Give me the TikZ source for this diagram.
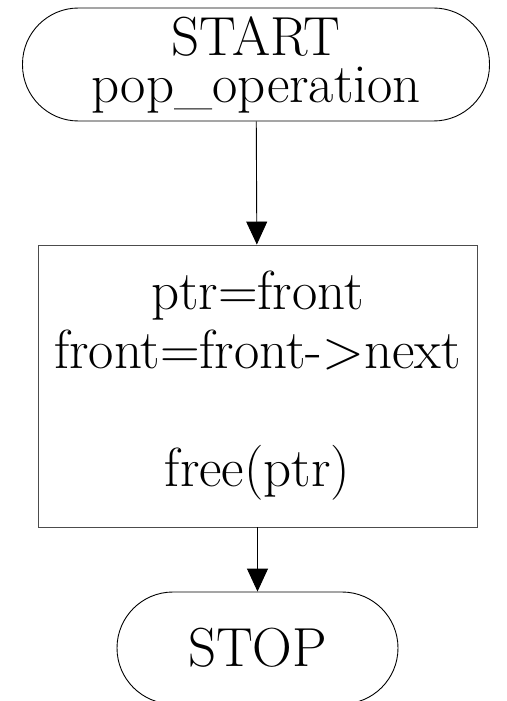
\documentclass[tikz,border=0pt]{standalone}
\usepackage{tikz}
\usetikzlibrary{arrows.meta}
\tikzstyle{Terminal}=[rectangle, rounded corners=56, inner sep=0, align=center, draw=black, font=\fontsize{55}{47}\selectfont]
\tikzstyle{Process}=[rectangle, minimum width=439, minimum height=282, inner sep=0, align=center, draw=black!70, font=\fontsize{55}{59}\selectfont]
\tikzstyle{Flow}=[-{Triangle[length=23, width=21]}, draw=black]

\begin{document}
\begin{tikzpicture}[x=1pt, y=-1pt, line width=0.9pt]
    \useasboundingbox (0,0) rectangle (506,701);
    \path
    (256,64.5) node[Terminal, minimum width=467, minimum height=113] (start) {START\\pop\_operation}
    (257.5,386) node[Process] (pop) {ptr=front\\front=front->next\\[59pt]free(ptr)}
    (257.5,648) node[Terminal, minimum width=281, minimum height=112] (stop) {STOP};

    \draw[Flow] (start) -- (pop);
    \draw[Flow] (pop) -- (stop);
\end{tikzpicture}
\end{document}
